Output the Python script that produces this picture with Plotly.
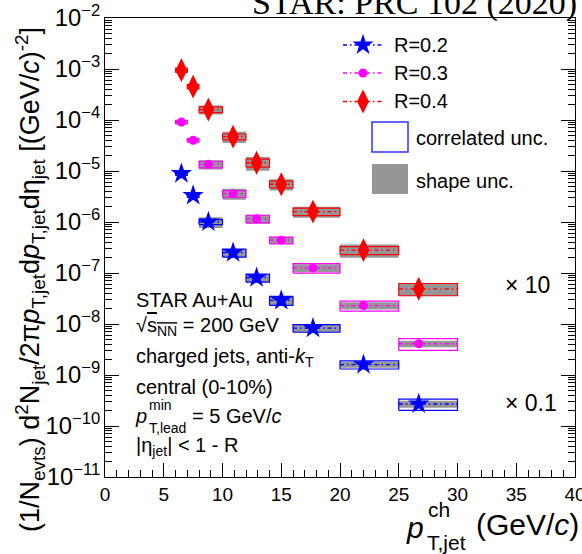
import plotly.graph_objects as go

# pT bins (GeV/c) and mean pT of each bin
bin_lo = [6, 7, 8, 10, 12, 14, 16, 20, 25]
bin_hi = [7, 8, 10, 12, 14, 16, 20, 25, 30]
pt_mean = [6.5, 7.5, 8.8, 10.9, 12.9, 15.0, 17.7, 22.0, 26.7]

# yields, already multiplied by the plotted scale factors
r02_yield = [8.9e-6, 3.3e-6, 1.0e-6, 2.5e-7, 8.1e-8, 2.9e-8, 8.3e-9, 1.6e-9, 2.7e-10]   # x 0.1
r03_yield = [9.1e-5, 4.0e-5, 1.35e-5, 3.6e-6, 1.16e-6, 4.4e-7, 1.26e-7, 2.3e-8, 4.1e-9]
r04_yield = [9.5e-4, 4.5e-4, 1.6e-4, 4.7e-5, 1.45e-5, 5.5e-6, 1.6e-6, 2.8e-7, 4.9e-8]  # x 10

# relative uncertainties
r02_shape = [0.08, 0.08, 0.24, 0.18, 0.18, 0.20, 0.17, 0.13, 0.16]
r02_corr = [0.08, 0.08, 0.11, 0.18, 0.18, 0.20, 0.17, 0.18, 0.25]
r03_shape = [0.08, 0.08, 0.21, 0.24, 0.20, 0.15, 0.18, 0.16, 0.15]
r03_corr = [0.08, 0.08, 0.15, 0.15, 0.17, 0.15, 0.21, 0.22, 0.26]
r04_shape = [0.10, 0.10, 0.20, 0.25, 0.30, 0.25, 0.24, 0.29, 0.28]
r04_corr = [0.10, 0.10, 0.13, 0.13, 0.18, 0.15, 0.17, 0.18, 0.27]

series_names = ["R=0.2", "R=0.3", "R=0.4"]
scale_labels = ["\u00d7 0.1", "", "\u00d7 10"]

SANS = "Liberation Sans, Arial, Helvetica, sans-serif"
SERIF = "Liberation Serif, Times New Roman, serif"
GRAY = "rgb(150,150,150)"
DASH = "4px,3px,1.5px,3px"

# plot frame in page pixels
FL, FR, FT, FB = 105, 575, 18, 477

styles = [
    dict(color="#0000ff", symbol="star", size=16),
    dict(color="#ff00ff", symbol="circle", size=9),
    dict(color="#ff0000", symbol="diamond-tall", size=17),
]
yields = [r02_yield, r03_yield, r04_yield]
shapes_u = [r02_shape, r03_shape, r04_shape]
corr_u = [r02_corr, r03_corr, r04_corr]


def px(x):
    return (x - FL) / (FR - FL)


def py(y):
    return (FB - y) / (FB - FT)


def boxes(lo, hi, y, rel):
    xs, ys = [], []
    for a, b, v, u in zip(lo, hi, y, rel):
        y0, y1 = v * (1 - u), v * (1 + u)
        xs += [a, b, b, a, a, None]
        ys += [y0, y0, y1, y1, y0, None]
    return xs, ys


def segments(lo, hi, y):
    xs, ys = [], []
    for a, b, v in zip(lo, hi, y):
        xs += [a, b, None]
        ys += [v, v, None]
    return xs, ys


fig = go.Figure()

# shape uncertainty (grey filled boxes)
for y, u in zip(yields, shapes_u):
    bx, by = boxes(bin_lo, bin_hi, y, u)
    fig.add_trace(go.Scatter(x=bx, y=by, mode="lines", fill="toself",
                             fillcolor=GRAY, line=dict(width=0),
                             hoverinfo="skip", showlegend=False))

# correlated uncertainty (open boxes) and bin widths
for y, u, st in zip(yields, corr_u, styles):
    bx, by = boxes(bin_lo, bin_hi, y, u)
    fig.add_trace(go.Scatter(x=bx, y=by, mode="lines",
                             line=dict(color=st["color"], width=1.2),
                             hoverinfo="skip", showlegend=False))
    sx, sy = segments(bin_lo, bin_hi, y)
    fig.add_trace(go.Scatter(x=sx, y=sy, mode="lines",
                             line=dict(color=st["color"], width=1.3, dash=DASH),
                             hoverinfo="skip", showlegend=False))

# data points
for y, st, name in zip(yields, styles, series_names):
    fig.add_trace(go.Scatter(x=pt_mean, y=y, mode="markers", name=name,
                             marker=dict(color=st["color"], symbol=st["symbol"],
                                         size=st["size"], line=dict(width=0)),
                             showlegend=False))

# ---- legend, drawn on a pixel-like overlay axis ----
leg_rows_y = [45, 73, 101.5]
for ly, st, name in zip(leg_rows_y, styles, series_names):
    fig.add_trace(go.Scatter(x=[343, 384], y=[ly, ly], mode="lines", xaxis="x2", yaxis="y2",
                             line=dict(color=st["color"], width=1.3, dash=DASH),
                             hoverinfo="skip", showlegend=False))
    fig.add_trace(go.Scatter(x=[363], y=[ly], mode="markers", xaxis="x2", yaxis="y2",
                             marker=dict(color=st["color"], symbol=st["symbol"],
                                         size=st["size"], line=dict(width=0)),
                             hoverinfo="skip", showlegend=False))

shapes = [
    dict(type="rect", xref="paper", yref="paper", x0=px(372), x1=px(408), y0=py(122), y1=py(152),
         line=dict(color="#3333ff", width=1.5), fillcolor="rgba(0,0,0,0)"),
    dict(type="rect", xref="paper", yref="paper", x0=px(372), x1=px(408), y0=py(164), y1=py(194),
         line=dict(width=0), fillcolor=GRAY),
]

annotations = []


def text(x, y, s, size=20, xanchor="left", yanchor="middle", font=SANS, angle=0):
    annotations.append(dict(x=px(x), y=py(y), xref="paper", yref="paper", text=s,
                            showarrow=False, xanchor=xanchor, yanchor=yanchor,
                            textangle=angle,
                            font=dict(family=font, size=size, color="black")))


for ly, name in zip(leg_rows_y, series_names):
    text(392, ly, name, size=20)
text(414, 138, "correlated unc.", size=20)
text(414, 181, "shape unc.", size=20)

# scale factors
text(503, 285, scale_labels[2], size=23)
text(503, 403, scale_labels[0], size=23)

# description block
text(134, 300, "STAR Au+Au")
text(134, 326, "\u221a<span style='text-decoration:overline'>s<sub>NN</sub></span> = 200 GeV")
text(134, 357, "charged jets, anti-<i>k</i><sub>T</sub>")
text(134, 387, "central (0-10%)")
text(133, 416, "<i>p</i>")
text(147, 405, "min", size=14)
text(147, 428, "T,lead", size=14)
text(190, 416, "= 5 GeV/<i>c</i>")
text(134, 446, "|\u03b7<sub>jet</sub>| < 1 - R")

# title
text(579, 3, "STAR: PRC 102 (2020)", size=34, xanchor="right", font=SERIF)

# x-axis title
text(404, 527, "<i>p</i>", size=30)
text(426, 509, "ch", size=21)
text(425, 542, "T,jet", size=21)
text(581, 524, "(GeV/<i>c</i>)", size=30, xanchor="right")

# y-axis title
text(30, 280,
     "(1/N<sub>evts</sub>) d<sup>2</sup>N<sub>jet</sub>/2\u03c0<i>p</i><sub>T,jet</sub>"
     "d<i>p</i><sub>T,jet</sub>d\u03b7<sub>jet</sub> [(GeV/<i>c</i>)<sup>-2</sup>]",
     size=27, xanchor="center", angle=-90)

fig.update_layout(
    width=582, height=554,
    margin=dict(l=FL, r=582 - FR, t=FT, b=554 - FB, pad=0, autoexpand=False),
    paper_bgcolor="white", plot_bgcolor="white",
    showlegend=False,
    shapes=shapes, annotations=annotations,
    xaxis=dict(range=[0, 40], tick0=0, dtick=5, ticks="inside", ticklen=14,
               tickwidth=1, tickcolor="black", showline=True, linecolor="black",
               linewidth=1, mirror=True, showgrid=False, zeroline=False,
               ticklabeloverflow="allow", automargin=False,
               tickfont=dict(family=SANS, size=19, color="black"),
               minor=dict(ticks="inside", dtick=1, ticklen=7, tickcolor="black",
                          showgrid=False)),
    yaxis=dict(type="log", range=[-11, -2], dtick=1, exponentformat="power",
               ticks="inside", ticklen=14, tickwidth=1, tickcolor="black",
               showline=True, linecolor="black", linewidth=1, mirror="allticks",
               showgrid=False, zeroline=False, ticklabeloverflow="allow",
               automargin=False,
               tickfont=dict(family=SANS, size=19, color="black"),
               minor=dict(ticks="inside", dtick="D1", ticklen=7, tickcolor="black",
                          showgrid=False)),
    xaxis2=dict(overlaying="x", range=[FL, FR], visible=False, anchor="y2"),
    yaxis2=dict(overlaying="y", range=[FB, FT], visible=False, anchor="x2"),
)

fig.write_html("out.html")
